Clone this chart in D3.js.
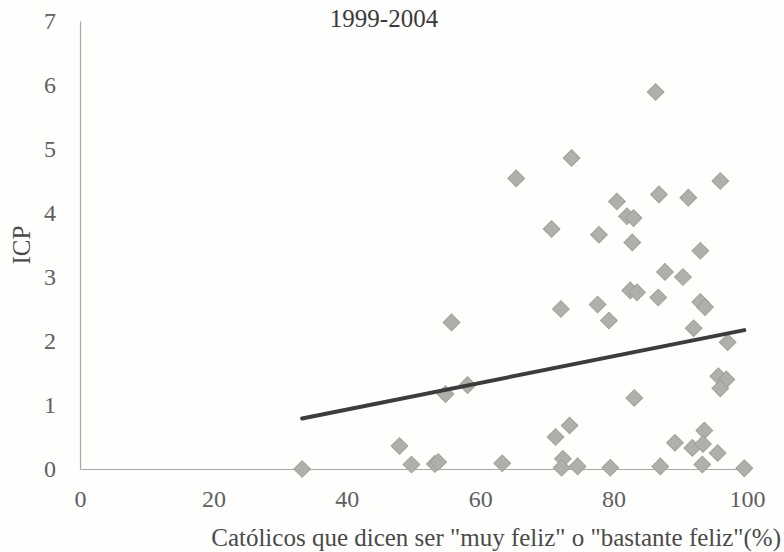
<!DOCTYPE html>
<html>
<head>
<meta charset="utf-8">
<script src="https://cdn.jsdelivr.net/npm/d3@7"></script>
<style>
  body { margin: 0; background: #fefefc; }
</style>
</head>
<body>
<script>
// Data
var happyPct = [86.3, 73.7, 65.4, 96.0, 86.8, 91.2, 80.5, 82.0, 83.0, 70.7,
  77.8, 82.8, 93.0, 87.7, 90.4, 82.5, 83.5, 86.7, 93.0, 93.7,
  77.6, 72.1, 79.3, 55.7, 92.0, 97.1, 95.7, 96.9, 96.0, 58.1,
  54.8, 83.1, 73.4, 71.3, 47.9, 89.2, 93.6, 91.8, 93.4, 95.6,
  72.4, 49.7, 53.2, 53.7, 63.3, 72.2, 74.6, 79.5, 87.0, 93.3,
  99.6, 33.3];
var icp = [5.89, 4.86, 4.54, 4.50, 4.29, 4.24, 4.18, 3.95, 3.92, 3.75,
  3.66, 3.54, 3.41, 3.08, 3.00, 2.79, 2.76, 2.68, 2.61, 2.53,
  2.57, 2.50, 2.32, 2.29, 2.20, 1.98, 1.45, 1.40, 1.26, 1.31,
  1.17, 1.11, 0.68, 0.50, 0.36, 0.41, 0.60, 0.33, 0.39, 0.25,
  0.16, 0.07, 0.08, 0.11, 0.09, 0.02, 0.04, 0.02, 0.04, 0.07,
  0.01, 0.00];
var trendX = [33.3, 99.6];
var trendY = [0.79, 2.17];
var xTicks = [0, 20, 40, 60, 80, 100];
var yTicks = [0, 1, 2, 3, 4, 5, 6, 7];

var serif = '"Liberation Serif", "DejaVu Serif", serif';

var svgWidth = 784;
var svgHeight = 552;
var margin = { top: 21, right: 37, bottom: 83, left: 80 };
var chartWidth = svgWidth - margin.left - margin.right;
var chartHeight = svgHeight - margin.top - margin.bottom;

var svg = d3.select('body').append('svg')
  .attr('width', svgWidth)
  .attr('height', svgHeight)
  .attr('font-family', serif);

var chart = svg.append('g')
  .attr('transform', `translate(${margin.left}, ${margin.top})`);

var xScale = d3.scaleLinear().domain([0, 100]).range([0, chartWidth]);
var yScale = d3.scaleLinear().domain([0, 7]).range([chartHeight, 0]);

// axes
var bottomAxis = d3.axisBottom(xScale).tickValues(xTicks).tickFormat(d3.format('d'))
  .tickSize(0).tickPadding(21);
var leftAxis = d3.axisLeft(yScale).tickValues(yTicks).tickFormat(d3.format('d'))
  .tickSize(0).tickPadding(24);

var gx = chart.append('g')
  .attr('transform', `translate(0, ${chartHeight})`)
  .call(bottomAxis);
var gy = chart.append('g').call(leftAxis);

[gx, gy].forEach(function(g) {
  g.attr('font-family', serif).attr('font-size', 24);
  g.select('.domain').attr('stroke', '#a8a8a4').attr('stroke-width', 1.2);
  g.selectAll('text').attr('fill', '#606060');
});

// title
chart.append('text')
  .attr('x', 304)
  .attr('y', 6)
  .attr('text-anchor', 'middle')
  .attr('font-size', 25)
  .attr('fill', '#3a3a3a')
  .text('1999-2004');

// axis labels
svg.append('text')
  .attr('x', 781)
  .attr('y', 546)
  .attr('text-anchor', 'end')
  .attr('font-size', 25)
  .attr('fill', '#4a4a4a')
  .text('Católicos que dicen ser "muy feliz" o "bastante feliz"(%)');

svg.append('text')
  .attr('transform', 'rotate(-90)')
  .attr('x', -(margin.top + chartHeight / 2))
  .attr('y', 30)
  .attr('text-anchor', 'middle')
  .attr('font-size', 25)
  .attr('fill', '#4a4a4a')
  .text('ICP');

// points
var diamond = d3.symbol().type(d3.symbolSquare).size(140);
chart.selectAll('path.pt')
  .data(happyPct)
  .enter()
  .append('path')
  .attr('class', 'pt')
  .attr('d', diamond)
  .attr('transform', function(d, i) {
    return `translate(${xScale(d)}, ${yScale(icp[i])}) rotate(45)`;
  })
  .attr('fill', '#b0b0aa')
  .attr('stroke', '#a0a09b')
  .attr('stroke-width', 1);

// trend line
var line = d3.line()
  .x(function(d) { return xScale(d); })
  .y(function(d, i) { return yScale(trendY[i]); });

chart.append('path')
  .datum(trendX)
  .attr('d', line)
  .attr('fill', 'none')
  .attr('stroke', '#3c3c3c')
  .attr('stroke-width', 4)
  .attr('stroke-linecap', 'round');
</script>
</body>
</html>
